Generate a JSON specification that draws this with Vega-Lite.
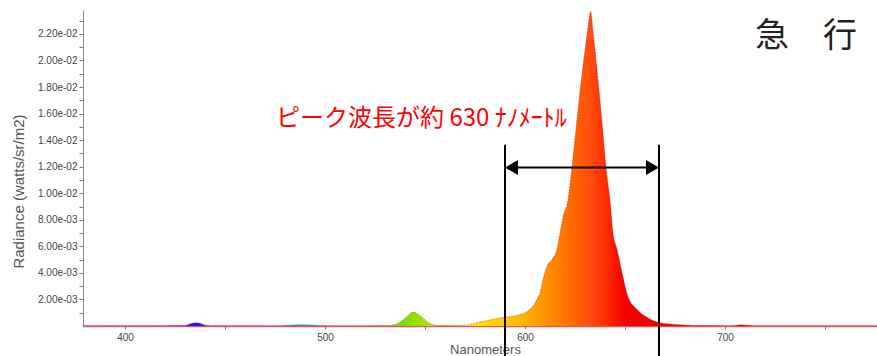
{
  "$schema": "https://vega.github.io/schema/vega-lite/v6.json",
  "width": 794,
  "height": 316,
  "autosize": {"type": "none"},
  "padding": {"left": 83, "top": 10, "right": 0, "bottom": 30},
  "background": "white",
  "config": {"view": {"stroke": null}, "font": "Liberation Sans"},
  "datasets": {
    "spec": [
      {"nm": 379, "v": 0.00002}, {"nm": 390, "v": 0.00002}, {"nm": 400, "v": 0.00002}, {"nm": 410, "v": 0.00002},
      {"nm": 420, "v": 0.00002}, {"nm": 428, "v": 0.00003}, {"nm": 431, "v": 0.00008}, {"nm": 433, "v": 0.00018},
      {"nm": 435, "v": 0.00025}, {"nm": 437, "v": 0.00022}, {"nm": 439, "v": 0.00012}, {"nm": 441, "v": 0.00004},
      {"nm": 444, "v": 0.00002}, {"nm": 460, "v": 0.00002}, {"nm": 475, "v": 0.00002}, {"nm": 480, "v": 0.00004},
      {"nm": 484, "v": 0.00008}, {"nm": 487, "v": 0.0001}, {"nm": 490, "v": 0.0001}, {"nm": 494, "v": 0.00007},
      {"nm": 498, "v": 0.00003}, {"nm": 505, "v": 0.00002}, {"nm": 520, "v": 0.00002}, {"nm": 530, "v": 0.00003},
      {"nm": 534, "v": 0.00008}, {"nm": 537, "v": 0.00025}, {"nm": 539, "v": 0.00045}, {"nm": 541, "v": 0.0007},
      {"nm": 543, "v": 0.00098}, {"nm": 544, "v": 0.00105}, {"nm": 546, "v": 0.00095}, {"nm": 548, "v": 0.00072},
      {"nm": 550, "v": 0.00045}, {"nm": 552, "v": 0.00022}, {"nm": 554, "v": 0.0001}, {"nm": 557, "v": 0.00004},
      {"nm": 562, "v": 0.00003}, {"nm": 568, "v": 0.00004}, {"nm": 572, "v": 0.0001}, {"nm": 576, "v": 0.00025},
      {"nm": 580, "v": 0.00038}, {"nm": 584, "v": 0.0005}, {"nm": 588, "v": 0.00063}, {"nm": 592, "v": 0.0007},
      {"nm": 596, "v": 0.0008}, {"nm": 600, "v": 0.001}, {"nm": 604, "v": 0.0015}, {"nm": 606, "v": 0.002},
      {"nm": 607.5, "v": 0.0025}, {"nm": 609, "v": 0.0035}, {"nm": 611, "v": 0.0045}, {"nm": 613.5, "v": 0.005},
      {"nm": 616, "v": 0.0058}, {"nm": 617.5, "v": 0.007}, {"nm": 619, "v": 0.0082}, {"nm": 621.5, "v": 0.0095},
      {"nm": 623.5, "v": 0.012}, {"nm": 625.25, "v": 0.0145}, {"nm": 627, "v": 0.017}, {"nm": 630, "v": 0.0208},
      {"nm": 631.5, "v": 0.0225}, {"nm": 632.85, "v": 0.0237}, {"nm": 634, "v": 0.0222}, {"nm": 635, "v": 0.0208},
      {"nm": 637.5, "v": 0.017}, {"nm": 639, "v": 0.0145}, {"nm": 640.5, "v": 0.012}, {"nm": 642.5, "v": 0.0095},
      {"nm": 644, "v": 0.007}, {"nm": 646, "v": 0.0058}, {"nm": 649, "v": 0.0037}, {"nm": 651.5, "v": 0.0022},
      {"nm": 656, "v": 0.00125}, {"nm": 661, "v": 0.00065}, {"nm": 667, "v": 0.00027}, {"nm": 677.5, "v": 0.0001},
      {"nm": 690, "v": 0.00003}, {"nm": 700, "v": 0.00002}, {"nm": 705, "v": 0.00004}, {"nm": 708, "v": 0.00009},
      {"nm": 711, "v": 0.00005}, {"nm": 715, "v": 0.00002}, {"nm": 740, "v": 0.00002}, {"nm": 776, "v": 0.00002}
    ]
  },
  "layer": [
    {
      "data": {"name": "spec"},
      "mark": {
        "type": "area",
        "interpolate": "monotone",
        "clip": true,
        "fill": {
          "gradient": "linear", "x1": 0, "x2": 1, "y1": 0, "y2": 0,
          "stops": [
            {"offset": 0, "color": "#7000a0"},
            {"offset": 0.103, "color": "#5010c0"},
            {"offset": 0.141, "color": "#2020d0"},
            {"offset": 0.204, "color": "#1060e0"},
            {"offset": 0.272, "color": "#10a8a8"},
            {"offset": 0.33, "color": "#30c060"},
            {"offset": 0.38, "color": "#70d010"},
            {"offset": 0.418, "color": "#90e000"},
            {"offset": 0.456, "color": "#c8e000"},
            {"offset": 0.486, "color": "#ffe600"},
            {"offset": 0.519, "color": "#ffd400"},
            {"offset": 0.544, "color": "#ffc000"},
            {"offset": 0.569, "color": "#ffa200"},
            {"offset": 0.594, "color": "#ff8400"},
            {"offset": 0.62, "color": "#ff6400"},
            {"offset": 0.64, "color": "#ff4a10"},
            {"offset": 0.66, "color": "#ff2a00"},
            {"offset": 0.683, "color": "#f40000"},
            {"offset": 0.809, "color": "#e80000"},
            {"offset": 1, "color": "#e00000"}
          ]
        }
      },
      "encoding": {
        "x": {
          "field": "nm", "type": "quantitative",
          "scale": {"domain": [379, 776], "nice": false, "zero": false},
          "axis": {
            "title": "Nanometers",
            "values": [400, 450, 500, 550, 600, 650, 700, 750],
            "tickCount": 100,
            "labelExpr": "datum.value % 100 == 0 ? datum.label : ''",
            "labelOverlap": false,
            "grid": false,
            "tickSize": 3,
            "tickColor": "#777",
            "domainColor": "#e8506a",
            "domainWidth": 1.5,
            "labelFont": "Liberation Sans",
            "labelFontSize": 10,
            "labelColor": "#444",
            "labelPadding": 3,
            "titleFont": "Liberation Sans",
            "titleFontSize": 13,
            "titleFontWeight": "normal",
            "titleColor": "#555",
            "titleX": 402,
            "titleY": 23,
            "titleBaseline": "middle"
          }
        },
        "y": {
          "field": "v", "type": "quantitative",
          "scale": {"domain": [0, 0.0238], "nice": false, "zero": true},
          "axis": {
            "title": "Radiance (watts/sr/m2)",
            "values": [0.001, 0.002, 0.003, 0.004, 0.005, 0.006, 0.007, 0.008, 0.009, 0.01, 0.011, 0.012, 0.013, 0.014, 0.015, 0.016, 0.017, 0.018, 0.019, 0.02, 0.021, 0.022, 0.023],
            "tickCount": 100,
            "labelExpr": "round(datum.value * 1000) % 2 == 0 ? replace(format(datum.value, '.2e'), 'e-', 'e-0') : ''",
            "labelOverlap": false,
            "grid": false,
            "tickSize": 4,
            "tickColor": "#777",
            "domainColor": "#888",
            "labelFont": "Liberation Sans",
            "labelFontSize": 10,
            "labelColor": "#444",
            "labelPadding": 2,
            "titleFont": "Liberation Sans",
            "titleFontSize": 15,
            "titleFontWeight": "normal",
            "titleColor": "#555",
            "titleX": -65,
            "titleY": 181,
            "titleAlign": "center",
            "titleBaseline": "middle"
          }
        }
      }
    },
    {
      "data": {"name": "spec"},
      "mark": {"type": "line", "interpolate": "monotone", "clip": true, "color": "#b02a20", "opacity": 0.45, "strokeWidth": 1, "strokeDash": [2, 1]},
      "encoding": {
        "x": {"field": "nm", "type": "quantitative"},
        "y": {"field": "v", "type": "quantitative"}
      }
    },
    {
      "mark": {"type": "rule", "color": "#999", "strokeWidth": 1},
      "encoding": {"y": {"datum": 0.0238}}
    },
    {
      "data": {"values": [{"nm": 590, "top": 0.01366, "bottom": -0.0023}, {"nm": 667, "top": 0.01366, "bottom": -0.0023}]},
      "mark": {"type": "rule", "color": "#000", "strokeWidth": 2},
      "encoding": {
        "x": {"field": "nm", "type": "quantitative"},
        "y": {"field": "top", "type": "quantitative"},
        "y2": {"field": "bottom"}
      }
    },
    {
      "data": {"values": [{"from": 592, "to": 665, "level": 0.01193}]},
      "mark": {"type": "rule", "color": "#000", "strokeWidth": 2},
      "encoding": {
        "x": {"field": "from", "type": "quantitative"},
        "x2": {"field": "to"},
        "y": {"field": "level", "type": "quantitative"}
      }
    },
    {
      "data": {"values": [{"nm": 593.25, "level": 0.01193, "dir": "triangle-left"}, {"nm": 663.75, "level": 0.01193, "dir": "triangle-right"}]},
      "mark": {"type": "point", "filled": true, "color": "#000", "opacity": 1, "size": 225, "strokeWidth": 0},
      "encoding": {
        "x": {"field": "nm", "type": "quantitative"},
        "y": {"field": "level", "type": "quantitative"},
        "shape": {"field": "dir", "type": "nominal", "scale": {"domain": ["triangle-left", "triangle-right"], "range": ["triangle-left", "triangle-right"]}, "legend": null}
      }
    },
    {
      "data": {"values": [{"nm": 475.5, "level": 0.0156, "label": "ピーク波長が約 630 ﾅﾉﾒｰﾄﾙ"}]},
      "mark": {"type": "text", "align": "left", "baseline": "middle", "font": "Noto Sans CJK JP", "fontSize": 24, "color": "#ff0000"},
      "encoding": {
        "x": {"field": "nm", "type": "quantitative"},
        "y": {"field": "level", "type": "quantitative"},
        "text": {"field": "label"}
      }
    },
    {
      "data": {"values": [{"nm": 766, "level": 0.0218, "label": "急　行"}]},
      "mark": {"type": "text", "align": "right", "baseline": "middle", "font": "Noto Sans CJK JP", "fontSize": 34, "color": "#222"},
      "encoding": {
        "x": {"field": "nm", "type": "quantitative"},
        "y": {"field": "level", "type": "quantitative"},
        "text": {"field": "label"}
      }
    }
  ]
}
